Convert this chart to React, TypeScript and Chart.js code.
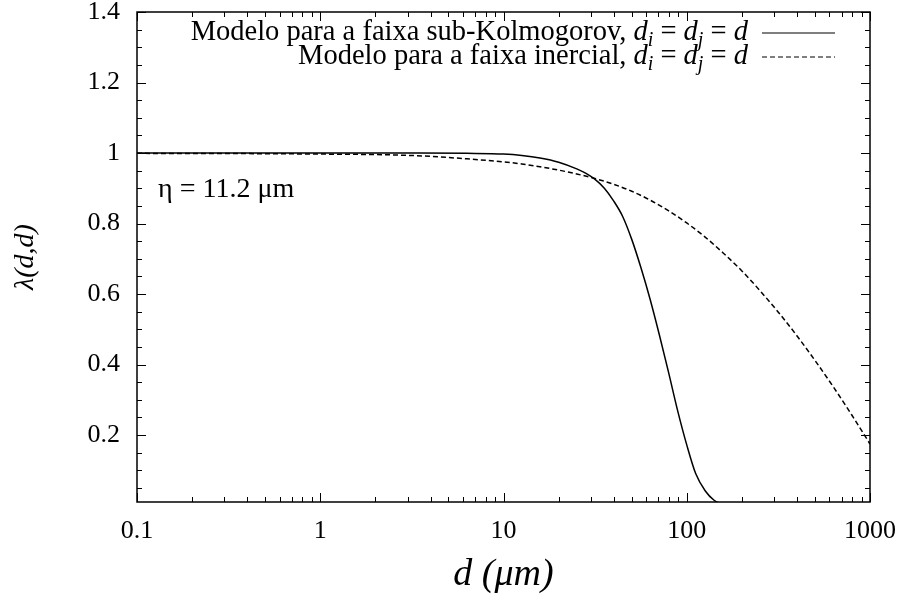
import React, { useEffect, useRef } from "react";
import { Chart, registerables } from "chart.js";

Chart.register(...registerables);

// ---- data ----
const xSolid = [0.1, 1, 3.16, 6.3, 10, 12.6, 15.8, 20, 25.1, 28.2, 31.6, 35.5, 39.8, 44.7, 50.1, 56.2, 63.1, 70.8, 79.4, 89.1, 100, 112, 126, 141, 158, 165];
const ySolid = [1.0, 1.0, 0.9998, 0.999, 0.997, 0.993, 0.986, 0.974, 0.955, 0.942, 0.925, 0.9, 0.865, 0.82, 0.755, 0.675, 0.585, 0.485, 0.38, 0.27, 0.172, 0.09, 0.042, 0.015, 0.003, 0.0];

const xDashed = [0.1, 0.316, 1, 2.5, 3.98, 6.3, 10, 12.6, 15.8, 20, 25.1, 31.6, 39.8, 50.1, 63.1, 79.4, 100, 126, 158, 200, 251, 316, 398, 501, 631, 794, 1000];
const yDashed = [0.999, 0.9985, 0.997, 0.9945, 0.9905, 0.9835, 0.975, 0.969, 0.961, 0.9515, 0.9405, 0.9275, 0.9115, 0.8915, 0.8665, 0.8365, 0.8015, 0.7615, 0.7165, 0.6655, 0.6095, 0.5485, 0.4825, 0.4115, 0.3365, 0.2575, 0.1745];

const xTickValues = [0.1, 1, 10, 100, 1000];
const xTickLabels = ["0.1", "1", "10", "100", "1000"];
const yTickValues = [0.2, 0.4, 0.6, 0.8, 1, 1.2, 1.4];
const yTickLabels = ["0.2", "0.4", "0.6", "0.8", "1", "1.2", "1.4"];

const seriesLabels = ["Modelo para a faixa sub-Kolmogorov,", "Modelo para a faixa inercial,"];
const annotationText = "η = 11.2 μm";
const xTitle = "d (μm)";
const yTitle = "λ(d,d)";

const FONT = "'Liberation Serif', 'Times New Roman', Times, serif";
const FS = 26;
const LFS = 28.5;

function drawMath(ctx: CanvasRenderingContext2D, endX: number, baseline: number): number {
  const pieces = [
    { t: "d", it: true, sub: false },
    { t: "i", it: true, sub: true },
    { t: " = ", it: false, sub: false },
    { t: "d", it: true, sub: false },
    { t: "j", it: true, sub: true },
    { t: " = ", it: false, sub: false },
    { t: "d", it: true, sub: false },
  ];
  const fontOf = (p: any) => `${p.it ? "italic " : ""}${p.sub ? Math.round(LFS * 0.7) : LFS}px ${FONT}`;
  let total = 0;
  const widths = pieces.map((p) => {
    ctx.font = fontOf(p);
    const w = ctx.measureText(p.t).width;
    total += w;
    return w;
  });
  let x = endX - total;
  const start = x;
  pieces.forEach((p, i) => {
    ctx.font = fontOf(p);
    ctx.fillText(p.t, x, baseline + (p.sub ? 6 : 0));
    x += widths[i];
  });
  return start;
}

const framePlugin = {
  id: "gnuframe",
  afterDraw(chart: any) {
    const { ctx, chartArea: a, scales } = chart;
    const xs = scales.x;
    const ys = scales.y;
    ctx.save();
    ctx.strokeStyle = "#000";
    ctx.fillStyle = "#000";
    ctx.lineWidth = 1.5;
    ctx.strokeRect(a.left, a.top, a.right - a.left, a.bottom - a.top);

    ctx.lineWidth = 1;
    ctx.beginPath();
    for (let k = 1; k <= 28; k++) {
      const v = k * 0.05;
      const p = Math.round(ys.getPixelForValue(v)) + 0.5;
      if (p > a.bottom - 1) continue;
      const major = yTickValues.some((t) => Math.abs(t - v) < 1e-6);
      const L = major ? 9 : 5;
      ctx.moveTo(a.left, p);
      ctx.lineTo(a.left + L, p);
      ctx.moveTo(a.right, p);
      ctx.lineTo(a.right - L, p);
    }
    for (let d = 0; d < 4; d++) {
      const dec = xTickValues[d];
      for (let m = 1; m <= 10; m++) {
        const v = dec * m;
        const p = Math.round(xs.getPixelForValue(v)) + 0.5;
        const L = m === 1 || m === 10 ? 9 : 5;
        ctx.moveTo(p, a.bottom);
        ctx.lineTo(p, a.bottom - L);
        ctx.moveTo(p, a.top);
        ctx.lineTo(p, a.top + L);
      }
    }
    ctx.stroke();

    // legend
    const mathEnd = 748;
    const rows = [
      { y: 40, dash: [] as number[] },
      { y: 64, dash: [5, 3] },
    ];
    rows.forEach((r, i) => {
      ctx.textBaseline = "alphabetic";
      ctx.textAlign = "left";
      const start = drawMath(ctx, mathEnd, r.y);
      ctx.font = `${LFS}px ${FONT}`;
      ctx.textAlign = "right";
      ctx.fillText(seriesLabels[i], start - 7, r.y);
      ctx.beginPath();
      ctx.setLineDash(r.dash);
      ctx.lineWidth = 1.2;
      ctx.moveTo(762, r.y - 7);
      ctx.lineTo(835, r.y - 7);
      ctx.stroke();
      ctx.setLineDash([]);
    });

    // annotation
    ctx.textAlign = "left";
    ctx.font = `28px ${FONT}`;
    ctx.fillText(annotationText, 158, 197);
    ctx.restore();
  },
};

export default function App() {
  const ref = useRef<HTMLCanvasElement | null>(null);
  useEffect(() => {
    if (!ref.current) return;
    const chart = new Chart(ref.current, {
      type: "line",
      data: {
        datasets: [
          {
            label: seriesLabels[0],
            data: xSolid.map((x, i) => ({ x, y: ySolid[i] })),
            borderColor: "#000",
            borderWidth: 1.5,
            pointRadius: 0,
            fill: false,
            cubicInterpolationMode: "monotone",
          },
          {
            label: seriesLabels[1],
            data: xDashed.map((x, i) => ({ x, y: yDashed[i] })),
            borderColor: "#000",
            borderWidth: 1.5,
            borderDash: [5, 3],
            pointRadius: 0,
            fill: false,
            cubicInterpolationMode: "monotone",
          },
        ],
      },
      options: {
        responsive: false,
        animation: false,
        events: [],
        layout: { padding: { top: 12, right: 33, left: 0, bottom: 0 } },
        plugins: { legend: { display: false }, tooltip: { enabled: false } },
        scales: {
          x: {
            type: "logarithmic",
            min: 0.1,
            max: 1000,
            grid: { display: false, drawTicks: false },
            border: { display: false },
            afterBuildTicks: (s: any) => {
              s.ticks = xTickValues.map((v) => ({ value: v }));
            },
            afterFit: (s: any) => {
              s.height = 97;
              s.paddingLeft = 0;
              s.paddingRight = 0;
              s.paddingTop = 0;
              s.paddingBottom = 0;
            },
            ticks: {
              autoSkip: false,
              maxRotation: 0,
              padding: 14,
              color: "#000",
              font: { family: FONT, size: FS },
              callback: (_v: any, i: number) => xTickLabels[i],
            },
            title: {
              display: true,
              text: xTitle,
              color: "#000",
              font: { family: FONT, size: 38, style: "italic" },
              padding: { top: 0, bottom: 1 },
            },
          },
          y: {
            type: "linear",
            min: 0.01,
            max: 1.4,
            grid: { display: false, drawTicks: false },
            border: { display: false },
            afterBuildTicks: (s: any) => {
              s.ticks = yTickValues.map((v) => ({ value: v }));
            },
            afterFit: (s: any) => {
              s.width = 137;
              s.paddingLeft = 0;
              s.paddingRight = 0;
              s.paddingTop = 0;
              s.paddingBottom = 0;
            },
            ticks: {
              padding: 17,
              color: "#000",
              font: { family: FONT, size: FS },
              callback: (_v: any, i: number) => yTickLabels[i],
            },
            title: {
              display: true,
              text: yTitle,
              color: "#000",
              font: { family: FONT, size: 28, style: "italic" },
              padding: { top: 9, bottom: 0 },
            },
          },
        },
      },
      plugins: [framePlugin],
    } as any);
    return () => chart.destroy();
  }, []);
  return (
    <div style={{ position: "fixed", left: 0, top: 0, width: 903, height: 599, background: "#fff" }}>
      <canvas ref={ref} width={903} height={599} style={{ display: "block" }} />
    </div>
  );
}
